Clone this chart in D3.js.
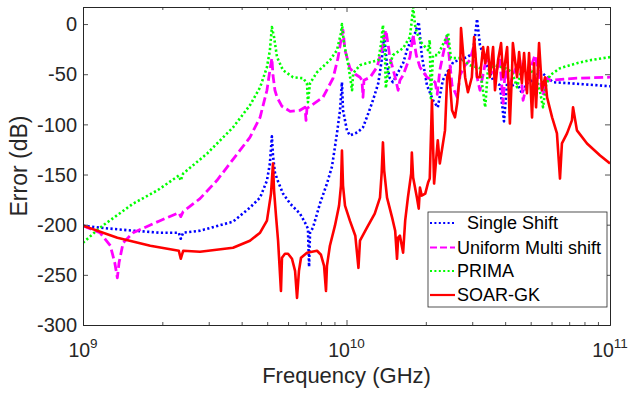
<!DOCTYPE html>
<html>
<head>
<meta charset="utf-8">
<script src="https://cdn.jsdelivr.net/npm/d3@7"></script>
<style>
  html, body { margin: 0; padding: 0; background: #fff; }
  svg { display: block; font-family: "Liberation Sans", Arial, Helvetica, sans-serif; }
</style>
</head>
<body>
<svg id="chart" width="628" height="394"></svg>
<script>
// ---------------- data (frequency, error in dB) ----------------
const seriesNames = ["  Single Shift", "Uniform Multi shift", "PRIMA", "SOAR-GK"];

const singleShift = [
  [1.00e9,-201],[1.16e9,-203],[1.55e9,-206],[1.96e9,-208],[2.31e9,-208],[2.35e9,-214],[2.40e9,-208],
  [2.78e9,-206],[3.71e9,-197],[4.30e9,-183],[4.70e9,-173],[4.99e9,-156],[5.12e9,-139],[5.21e9,-112],
  [5.26e9,-131],[5.35e9,-148],[5.50e9,-157],[5.74e9,-169],[6.11e9,-179],[6.66e9,-189],[6.96e9,-198],
  [7.14e9,-204],[7.21e9,-242],[7.27e9,-208],[7.46e9,-203],[7.93e9,-179],[8.43e9,-159],[8.81e9,-142],
  [9.20e9,-109],[9.45e9,-86],[9.61e9,-58],[9.70e9,-86],[1.004e10,-106],[1.03e10,-111],[1.10e10,-108],
  [1.155e10,-103],[1.21e10,-89],[1.26e10,-76],[1.32e10,-59],[1.36e10,-36],[1.39e10,-11],[1.425e10,-41],
  [1.46e10,-54],[1.50e10,-58],[1.57e10,-48],[1.64e10,-39],[1.71e10,-23],[1.82e10,-9],[1.88e10,2],
  [1.93e10,-31],[2.02e10,-61],[2.13e10,-76],[2.22e10,-83],[2.32e10,-56],[2.41e10,-48],[2.54e10,-38],
  [2.87e10,-33],[3.02e10,-29],[3.13e10,5],[3.21e10,-21],[3.41e10,-41],[3.60e10,-56],[3.82e10,-61],
  [3.96e10,-97],[4.07e10,-58],[4.28e10,-61],[4.44e10,-59],[4.63e10,-69],[4.84e10,-59],[5.10e10,-56],
  [5.43e10,-47],[5.77e10,-53],[6.08e10,-58],[7.05e10,-59],[7.90e10,-60],[1.00e11,-62]
];

const uniformMultiShift = [
  [1.00e9,-201],[1.16e9,-208],[1.27e9,-221],[1.32e9,-238],[1.35e9,-253],[1.37e9,-238],[1.42e9,-218],
  [1.55e9,-208],[1.96e9,-196],[2.31e9,-188],[2.35e9,-192],[2.40e9,-187],[2.78e9,-174],[3.22e9,-156],
  [3.94e9,-126],[4.30e9,-113],[4.70e9,-93],[4.99e9,-66],[5.12e9,-46],[5.21e9,-34],[5.26e9,-51],
  [5.35e9,-66],[5.45e9,-73],[5.69e9,-82],[6.11e9,-87],[6.66e9,-86],[6.96e9,-83],[7.02e9,-96],
  [7.08e9,-84],[7.27e9,-82],[8.14e9,-73],[8.89e9,-54],[9.28e9,-34],[9.53e9,-16],[9.70e9,-6],
  [9.87e9,-26],[1.03e10,-44],[1.08e10,-50],[1.125e10,-53],[1.145e10,-56],[1.155e10,-73],[1.165e10,-56],
  [1.23e10,-53],[1.305e10,-43],[1.36e10,-26],[1.41e10,-6],[1.44e10,-21],[1.46e10,-33],[1.53e10,-53],
  [1.57e10,-66],[1.595e10,-56],[1.64e10,-51],[1.74e10,-33],[1.79e10,-11],[1.84e10,-31],[1.90e10,-43],
  [2.02e10,-53],[2.17e10,-58],[2.21e10,-70],[2.26e10,-46],[2.365e10,-21],[2.41e10,-11],[2.45e10,-31],
  [2.515e10,-61],[2.63e10,-73],[2.70e10,-51],[2.82e10,-41],[2.94e10,-36],[3.05e10,-21],[3.13e10,-53],
  [3.21e10,-66],[3.41e10,-31],[3.50e10,-46],[3.66e10,-51],[3.82e10,-36],[3.93e10,-79],[4.00e10,-46],
  [4.17e10,-60],[4.36e10,-46],[4.55e10,-36],[4.68e10,-76],[4.97e10,-46],[5.19e10,-31],[5.43e10,-56],
  [5.57e10,-71],[5.77e10,-54],[5.92e10,-56],[7.49e10,-54],[1.00e11,-53]
];

const prima = [
  [1.00e9,-218],[1.16e9,-203],[1.55e9,-179],[1.91e9,-166],[2.31e9,-151],[2.35e9,-156],[2.40e9,-149],
  [2.96e9,-129],[3.71e9,-103],[4.30e9,-81],[4.70e9,-63],[4.99e9,-43],[5.12e9,-26],[5.21e9,-3],
  [5.31e9,-13],[5.45e9,-33],[5.74e9,-46],[6.27e9,-53],[6.84e9,-54],[7.08e9,-59],[7.14e9,-78],
  [7.27e9,-59],[7.73e9,-48],[8.65e9,-36],[9.20e9,-26],[9.53e9,-9],[9.61e9,0],[9.78e9,-19],
  [1.013e10,-39],[1.05e10,-66],[1.06e10,-49],[1.125e10,-41],[1.23e10,-38],[1.32e10,-36],[1.35e10,-21],
  [1.375e10,-1],[1.40e10,-31],[1.41e10,-64],[1.44e10,-46],[1.50e10,-31],[1.64e10,-24],[1.74e10,-13],
  [1.77e10,4],[1.79e10,17],[1.82e10,-1],[1.85e10,-9],[1.93e10,-19],[2.04e10,-26],[2.07e10,-16],
  [2.09e10,-74],[2.13e10,-31],[2.22e10,-31],[2.365e10,-16],[2.43e10,-9],[2.49e10,-34],[2.70e10,-34],
  [2.94e10,-41],[3.21e10,-44],[3.36e10,-83],[3.44e10,-46],[3.66e10,-41],[4.00e10,-44],[4.25e10,-48],
  [4.44e10,-63],[4.63e10,-44],[4.97e10,-44],[5.28e10,-56],[5.43e10,-68],[5.57e10,-83],[5.72e10,-61],
  [5.92e10,-51],[6.46e10,-44],[7.49e10,-39],[8.40e10,-36],[1.00e11,-33]
];

const soarGK = [
  [1.00e9,-201],[1.35e9,-213],[1.80e9,-221],[2.31e9,-226],[2.35e9,-234],[2.40e9,-226],[2.78e9,-227],
  [3.71e9,-223],[4.30e9,-216],[4.70e9,-208],[4.99e9,-196],[5.17e9,-169],[5.26e9,-139],[5.31e9,-166],
  [5.40e9,-191],[5.50e9,-216],[5.64e9,-266],[5.69e9,-233],[5.84e9,-229],[6.00e9,-229],[6.21e9,-234],
  [6.38e9,-246],[6.49e9,-273],[6.60e9,-246],[6.72e9,-233],[7.08e9,-228],[7.73e9,-226],[8.00e9,-230],
  [8.22e9,-241],[8.36e9,-266],[8.43e9,-241],[8.65e9,-221],[9.04e9,-201],[9.37e9,-181],[9.53e9,-161],
  [9.61e9,-126],[9.70e9,-161],[9.87e9,-181],[1.03e10,-196],[1.08e10,-211],[1.11e10,-243],[1.125e10,-216],
  [1.196e10,-203],[1.28e10,-189],[1.34e10,-173],[1.36e10,-148],[1.375e10,-118],[1.39e10,-146],
  [1.425e10,-173],[1.49e10,-193],[1.53e10,-206],[1.555e10,-234],[1.57e10,-213],[1.595e10,-211],
  [1.64e10,-228],[1.67e10,-196],[1.71e10,-173],[1.76e10,-149],[1.77e10,-128],[1.79e10,-153],
  [1.85e10,-173],[1.88e10,-184],[1.90e10,-163],[1.93e10,-171],[1.99e10,-169],[2.04e10,-158],
  [2.07e10,-154],[2.11e10,-76],[2.15e10,-159],[2.22e10,-116],[2.26e10,-139],[2.365e10,-106],
  [2.41e10,-53],[2.45e10,-46],[2.515e10,-86],[2.58e10,-93],[2.63e10,-79],[2.70e10,-46],[2.72e10,-4],
  [2.82e10,-53],[2.89e10,-68],[2.99e10,-53],[3.05e10,-13],[3.13e10,-53],[3.21e10,-53],[3.30e10,-23],
  [3.36e10,-39],[3.44e10,-23],[3.50e10,-53],[3.60e10,-23],[3.66e10,-66],[3.76e10,-36],[3.86e10,-19],
  [3.93e10,-53],[4.07e10,-23],[4.17e10,-99],[4.25e10,-46],[4.28e10,-19],[4.44e10,-53],[4.52e10,-28],
  [4.63e10,-59],[4.72e10,-29],[4.84e10,-69],[4.93e10,-29],[5.06e10,-93],[5.15e10,-39],[5.24e10,-83],
  [5.38e10,-19],[5.52e10,-66],[5.67e10,-53],[5.77e10,-73],[6.03e10,-93],[6.29e10,-109],[6.46e10,-154],
  [6.57e10,-119],[6.87e10,-109],[7.17e10,-96],[7.24e10,-83],[7.49e10,-106],[8.18e10,-119],[9.17e10,-131],
  [1.00e11,-139]
];

const xMajorTicks = [1e9, 1e10, 1e11];
const xTickExponents = ["9", "10", "11"];
const xMinorTicks = [2e9,3e9,4e9,5e9,6e9,7e9,8e9,9e9,2e10,3e10,4e10,5e10,6e10,7e10,8e10,9e10];
const yTicks = [0, -50, -100, -150, -200, -250, -300];
const yTickLabels = ["0", "-50", "-100", "-150", "-200", "-250", "-300"];

// ---------------- layout ----------------
const svg = d3.select("#chart");
const L = 83, R = 610, T = 7, B = 325;
const ink = "#262626";

const x = d3.scaleLog().domain([1e9, 1e11]).range([L, R]);
const y = d3.scaleLinear().domain([-300, 17]).range([B, T]);

svg.append("defs").append("clipPath").attr("id", "clip")
  .append("rect").attr("x", L).attr("y", T).attr("width", R - L).attr("height", B - T);

svg.append("rect").attr("x", L).attr("y", T).attr("width", R - L).attr("height", B - T).attr("fill", "#fff");

// ---------------- series ----------------
const styles = [
  { data: singleShift, color: "#0000ff", width: 2.6, dash: "2.2,2.4" },
  { data: uniformMultiShift, color: "#ff00ff", width: 2.8, dash: "9,4" },
  { data: prima, color: "#00ff00", width: 2.6, dash: "2.2,2.4" },
  { data: soarGK, color: "#ff0000", width: 2.6, dash: null }
];

const line = d3.line().x(d => x(d[0])).y(d => y(d[1]));
const gLines = svg.append("g").attr("clip-path", "url(#clip)");
styles.forEach(s => {
  gLines.append("path").datum(s.data)
    .attr("d", line)
    .attr("fill", "none")
    .attr("stroke", s.color)
    .attr("stroke-width", s.width)
    .attr("stroke-linejoin", "round")
    .attr("stroke-dasharray", s.dash);
});

// ---------------- axes ----------------
function styleAxis(g) {
  g.selectAll("path.domain").attr("stroke", ink).attr("stroke-width", 1);
  g.selectAll(".tick line").attr("stroke", ink).attr("stroke-width", 0.8);
  g.selectAll(".tick text").remove();
}
svg.append("g").attr("transform", `translate(0,${B})`)
  .call(d3.axisBottom(x).tickValues(xMajorTicks).tickSize(-5).tickSizeOuter(0).tickFormat("")).call(styleAxis);
svg.append("g").attr("transform", `translate(0,${B})`)
  .call(d3.axisBottom(x).tickValues(xMinorTicks).tickSize(-3).tickSizeOuter(0).tickFormat("")).call(styleAxis);
svg.append("g").attr("transform", `translate(0,${T})`)
  .call(d3.axisTop(x).tickValues(xMajorTicks).tickSize(-5).tickSizeOuter(0).tickFormat("")).call(styleAxis);
svg.append("g").attr("transform", `translate(0,${T})`)
  .call(d3.axisTop(x).tickValues(xMinorTicks).tickSize(-3).tickSizeOuter(0).tickFormat("")).call(styleAxis);
svg.append("g").attr("transform", `translate(${L},0)`)
  .call(d3.axisLeft(y).tickValues(yTicks).tickSize(-5).tickSizeOuter(0).tickFormat("")).call(styleAxis);
svg.append("g").attr("transform", `translate(${R},0)`)
  .call(d3.axisRight(y).tickValues(yTicks).tickSize(-5).tickSizeOuter(0).tickFormat("")).call(styleAxis);

// tick labels
const yl = svg.append("g").attr("fill", ink).attr("font-size", 20).attr("text-anchor", "end");
yTicks.forEach((v, i) => {
  yl.append("text").attr("x", L - 6).attr("y", y(v)).attr("dy", "0.36em").text(yTickLabels[i]);
});
const xl = svg.append("g").attr("fill", ink).attr("font-size", 19.5).attr("text-anchor", "middle");
xMajorTicks.forEach((v, i) => {
  const t = xl.append("text").attr("x", x(v)).attr("y", 357);
  t.append("tspan").text("10");
  t.append("tspan").attr("font-size", 13.5).attr("dy", -9).text(xTickExponents[i]);
});

// axis titles
svg.append("text").attr("x", (L + R) / 2).attr("y", 383).attr("text-anchor", "middle")
  .attr("font-size", 22).attr("fill", ink).text("Frequency (GHz)");
svg.append("text").attr("transform", `translate(27,${(T + B) / 2}) rotate(-90)`).attr("text-anchor", "middle")
  .attr("font-size", 23).attr("fill", ink).text("Error (dB)");

// ---------------- legend ----------------
const lg = svg.append("g");
lg.append("rect").attr("x", 428).attr("y", 212).attr("width", 179).attr("height", 95)
  .attr("fill", "#fff").attr("stroke", ink).attr("stroke-width", 0.8);
const legendY = [223, 247.5, 271, 295];
styles.forEach((s, i) => {
  lg.append("line").attr("x1", 430).attr("x2", 455).attr("y1", legendY[i]).attr("y2", legendY[i])
    .attr("stroke", s.color).attr("stroke-width", 2.2)
    .attr("stroke-dasharray", s.dash ? (s.dash === "9,4" ? "7,3" : "2,2.4") : null);
  lg.append("text").attr("x", 457).attr("y", legendY[i]).attr("dy", "0.36em")
    .attr("font-size", 18).attr("fill", "#000").style("white-space", "pre").text(seriesNames[i]);
});
</script>
</body>
</html>
